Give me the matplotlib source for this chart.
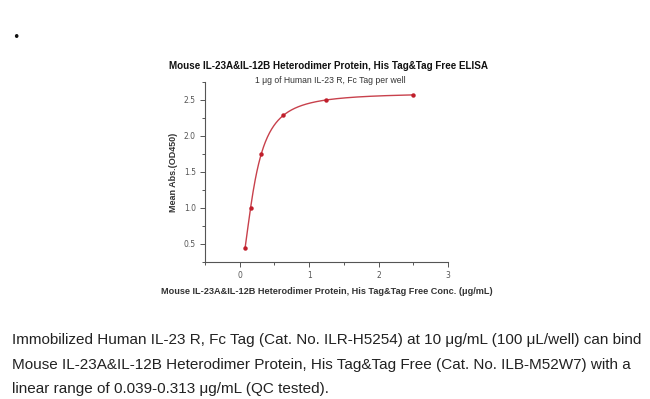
import numpy as np
import matplotlib
matplotlib.use('Agg')
import matplotlib.pyplot as plt
from matplotlib.ticker import MultipleLocator


# === 数据 ===
conc = [0.078, 0.156, 0.3125, 0.625, 1.25, 2.5]      # μg/mL
od450 = [0.45, 1.00, 1.75, 2.29, 2.50, 2.57]        # Mean Abs.

title = 'Mouse IL-23A&IL-12B Heterodimer Protein, His Tag&Tag Free ELISA'
subtitle = '1 μg of Human IL-23 R, Fc Tag per well'
x_label = 'Mouse IL-23A&IL-12B Heterodimer Protein, His Tag&Tag Free Conc. (μg/mL)'
y_label = 'Mean Abs.(OD450)'
caption = ['Immobilized Human IL-23 R, Fc Tag (Cat. No. ILR-H5254) at 10 μg/mL (100 μL/well) can bind',
           'Mouse IL-23A&IL-12B Heterodimer Protein, His Tag&Tag Free (Cat. No. ILB-M52W7) with a',
           'linear range of 0.039-0.313 μg/mL (QC tested).']

red_pt = '#c01f2b'
red_line = '#c8414c'
fam = ['Liberation Sans', 'DejaVu Sans']


# === 4PL 拟合 (网格搜索 c, b；a, d 线性最小二乘) ===
def fit_4pl(x, y):
    x = np.asarray(x, float)
    y = np.asarray(y, float)
    best = None
    for c in np.logspace(-2, 1, 300):
        for b in np.linspace(0.3, 4, 150):
            g = 1.0 / (1.0 + (x / c) ** b)
            A = np.column_stack([g, 1 - g])
            (a, d), *_ = np.linalg.lstsq(A, y, rcond=None)
            err = np.sum((A @ np.array([a, d]) - y) ** 2)
            if best is None or err < best[0]:
                best = (err, a, b, c, d)
    return best[1:]


a, b, c, d = fit_4pl(conc, od450)
xs = np.linspace(min(conc), max(conc), 400)
ys = d + (a - d) / (1 + (xs / c) ** b)


# === 绘图 ===
fig = plt.figure(figsize=(6.5, 3.99), dpi=100)
ax = fig.add_axes([0.3154, 0.3434, 0.3738, 0.4511])

ax.plot(xs, ys, color=red_line, lw=1.0)
ax.plot(conc, od450, 'o', color=red_pt, ms=3.2, mew=0)

ax.set_xlim(-0.5, 3)
ax.set_ylim(0.25, 2.75)
ax.xaxis.set_major_locator(MultipleLocator(1))
ax.xaxis.set_minor_locator(MultipleLocator(0.5))
ax.yaxis.set_major_locator(MultipleLocator(0.5))
ax.yaxis.set_minor_locator(MultipleLocator(0.25))
ax.set_xticks([0, 1, 2, 3])
ax.set_xticklabels(['0', '1', '2', '3'])
for s in ['top', 'right']:
    ax.spines[s].set_visible(False)
for s in ['left', 'bottom']:
    ax.spines[s].set_color('#555555')
    ax.spines[s].set_linewidth(0.8)
ax.tick_params(which='major', length=3.5, width=0.7, color='#555555',
               labelsize=5.5, labelcolor='#555555', pad=3)
ax.tick_params(which='minor', length=2.5, width=0.7, color='#555555')

ax.set_xlabel(x_label, fontsize=6.6, fontweight='bold', family=fam,
              color='#333333', labelpad=5)
ax.set_ylabel(y_label, fontsize=6.5, fontweight='bold', family=fam,
              color='#333333', labelpad=4.5)

fig.text(0.505, 0.835, title, ha='center', va='center', fontsize=7.1,
         fontweight='bold', family=fam, color='#111111')
fig.text(0.508, 0.799, subtitle, ha='center', va='center', fontsize=6.2,
         family=fam, color='#333333')

fig.text(0.025, 0.907, '•', ha='center', va='center', fontsize=9, color='#111111')

for i, line in enumerate(caption):
    fig.text(0.018, 1 - (340 + 24.5 * i) / 399, line, ha='left', va='center',
             fontsize=11.0, family=fam, color='#222222')

fig.savefig('out.png', dpi=100)
